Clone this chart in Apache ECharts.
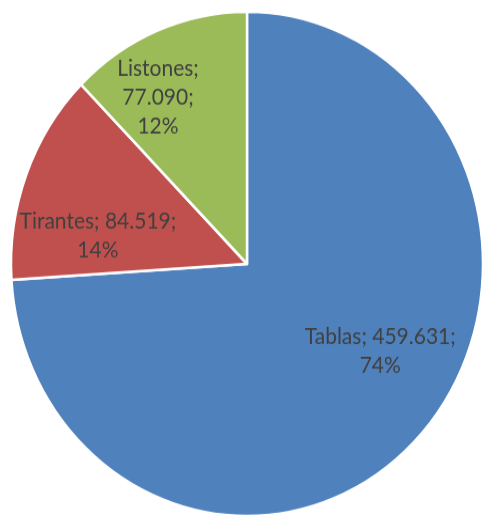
<!DOCTYPE html>
<html>
<head>
<meta charset="utf-8">
<script src="https://cdn.jsdelivr.net/npm/echarts@6/dist/echarts.min.js"></script>
<style>
html,body{margin:0;padding:0;background:#fff;overflow:hidden;}
#wrap{width:482px;height:516px;overflow:hidden;}
#chart{width:482px;height:483px;transform:scaleY(1.0683);transform-origin:0 0;}
</style>
</head>
<body>
<div id="wrap"><div id="chart"></div></div>
<script>
const categories = ['Tablas', 'Tirantes', 'Listones'];
const values = [459631, 84519, 77090];
const colors = ['#4F81BD', '#C0504D', '#9BBB59'];
const labelWrapAll = [false, false, true];
const labelShift = [[45, -1], [-36, 17], [-43, -44]];

function fmtNum(v) {
  const th = Math.floor(v / 1000);
  const rest = String(v % 1000).padStart(3, '0');
  return th > 0 ? th + '.' + rest : String(v);
}

const chart = echarts.init(document.getElementById('chart'));
chart.setOption({
  animation: false,
  series: [{
    type: 'pie',
    center: [247, 247],
    radius: 236,
    startAngle: 90,
    clockwise: true,
    itemStyle: { borderColor: '#fff', borderWidth: 2.5 },
    label: {
      position: 'inside',
      color: '#404040',
      fontFamily: 'Lato',
      fontSize: 21,
      lineHeight: 27,
      align: 'center',
      formatter: function (p) {
        const sep = labelWrapAll[p.dataIndex] ? '\n' : ' ';
        return p.name + ';' + sep + fmtNum(p.value) + ';\n' + Math.round(p.percent) + '%';
      }
    },
    labelLayout: function (p) {
      const s = labelShift[p.dataIndex];
      return { dx: s[0], dy: s[1] };
    },
    data: categories.map((c, i) => ({ name: c, value: values[i], itemStyle: { color: colors[i] } }))
  }]
});
</script>
</body>
</html>
